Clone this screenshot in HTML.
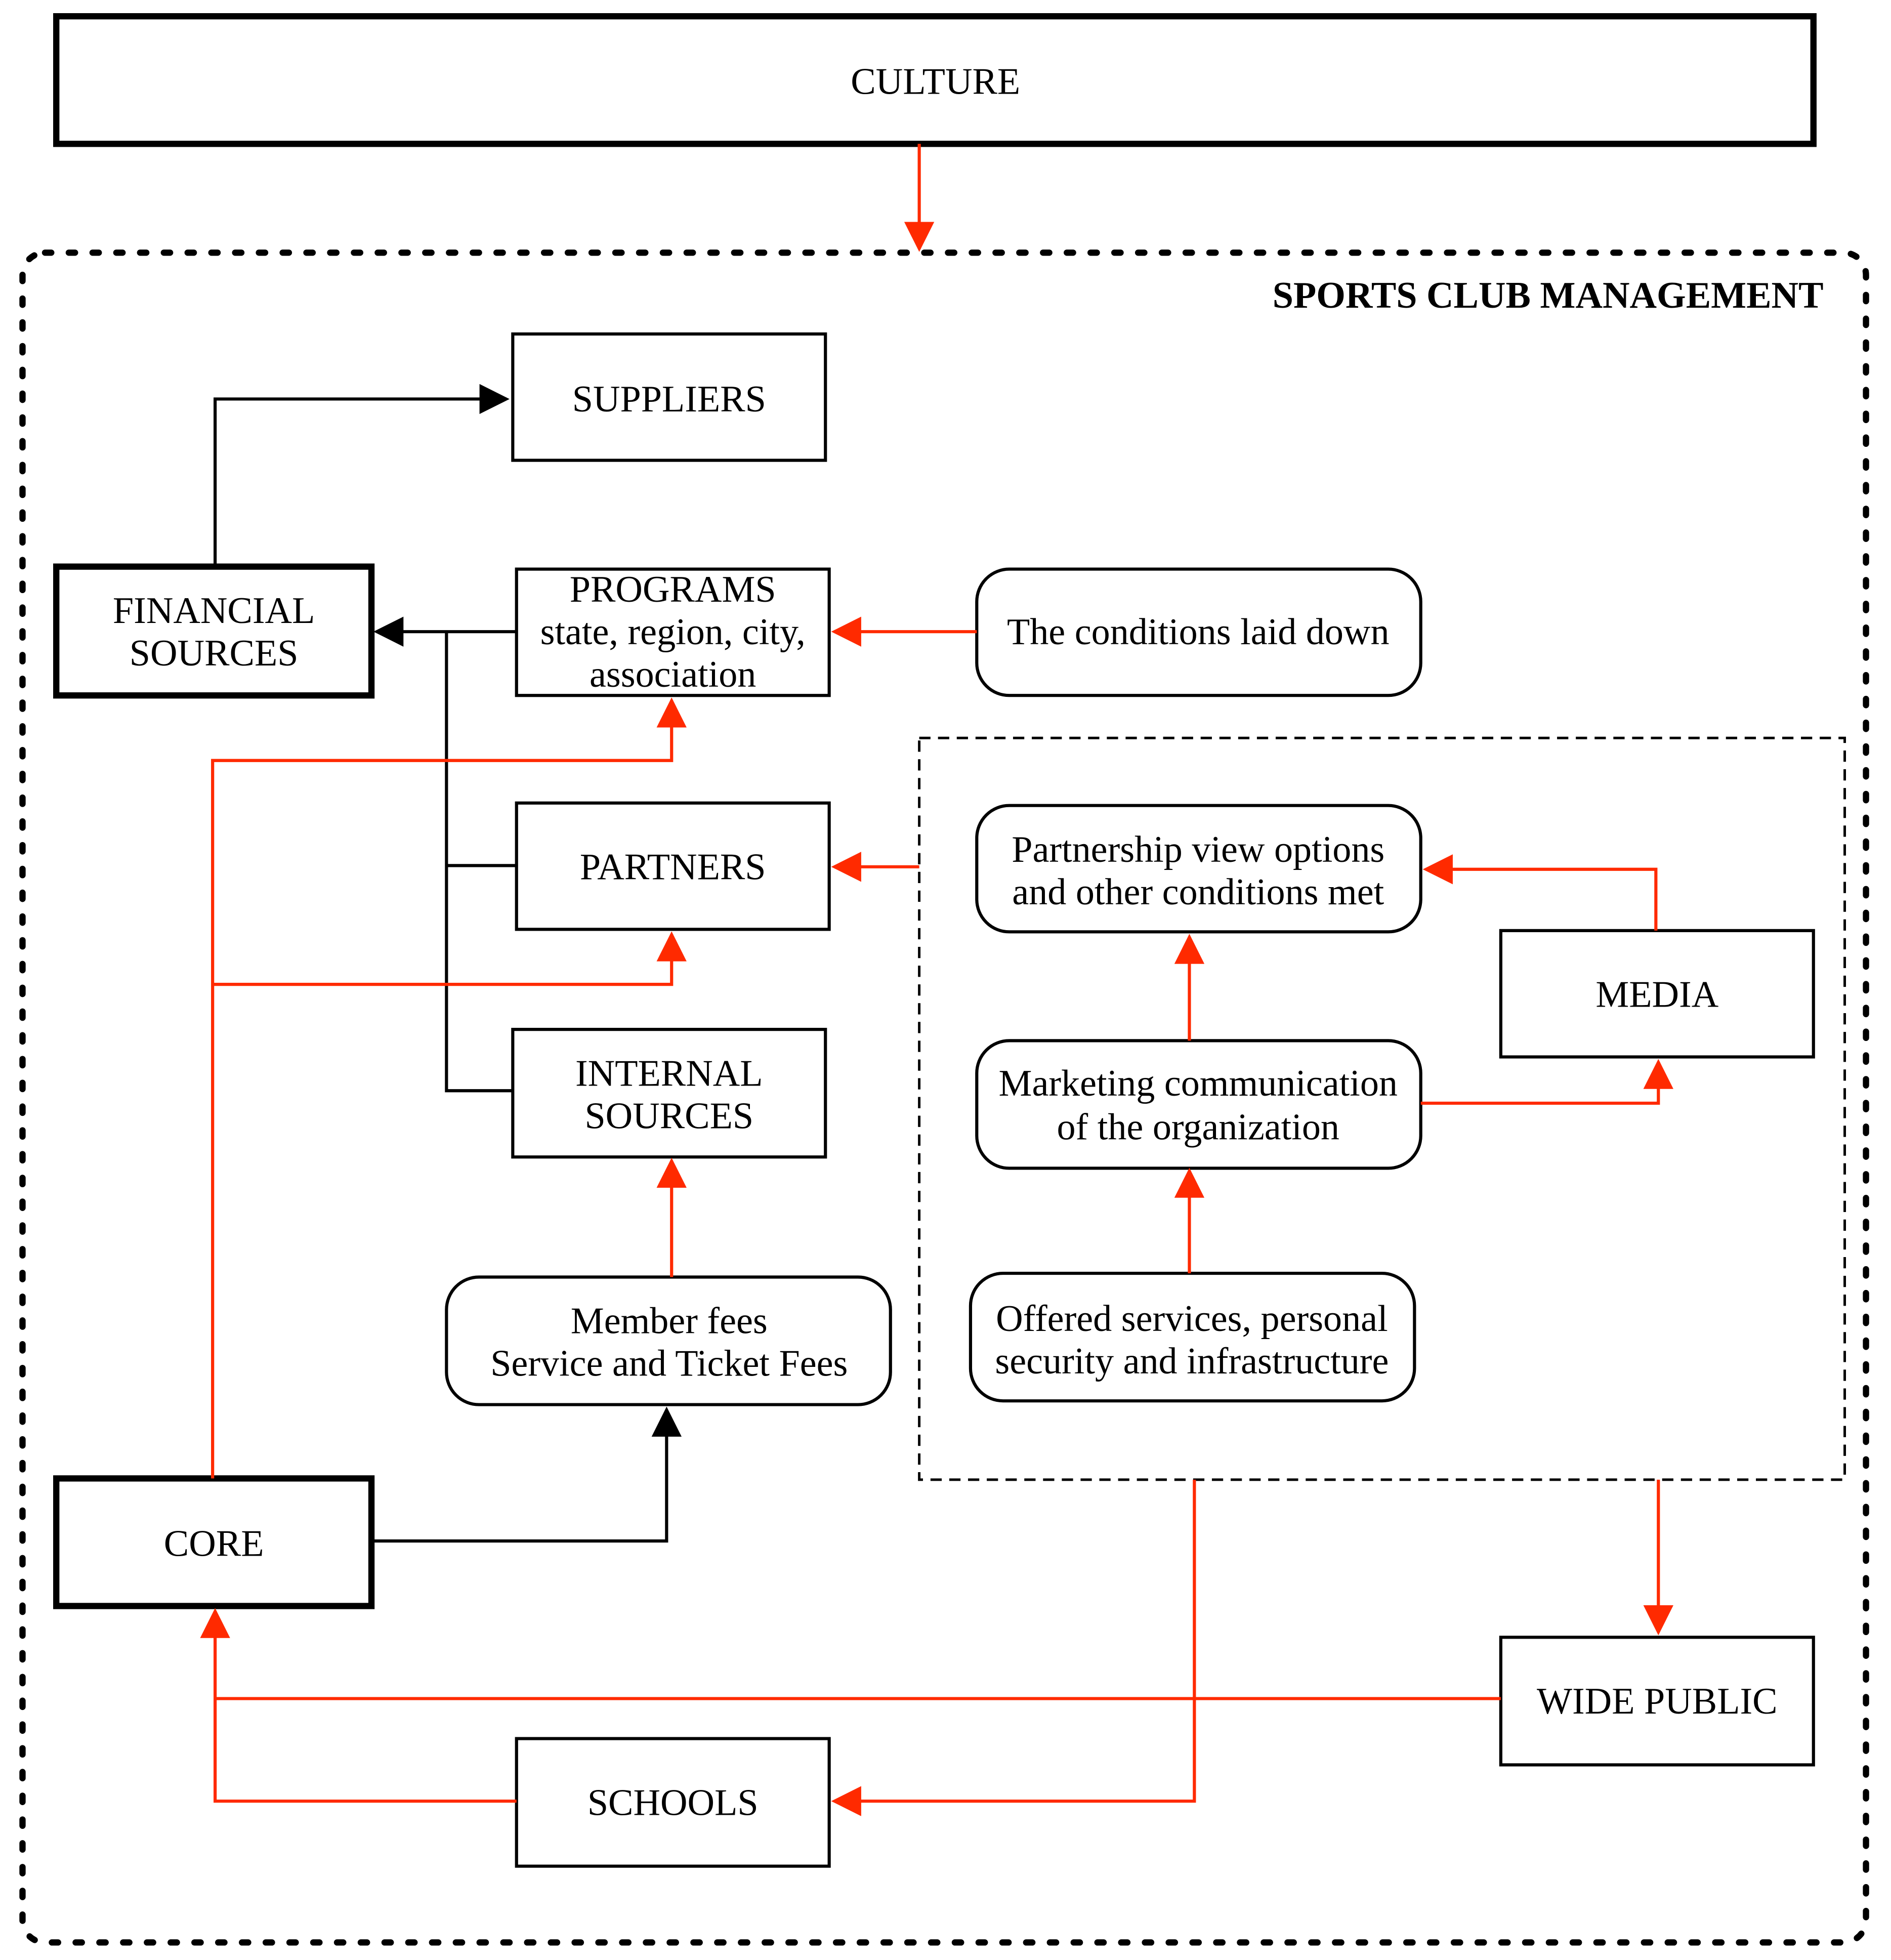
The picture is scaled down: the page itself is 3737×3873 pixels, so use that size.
<!DOCTYPE html>
<html><head><meta charset="utf-8"><style>html,body{margin:0;padding:0;background:#fff}svg{display:block}</style></head>
<body>
<svg width="3737" height="3873" viewBox="0 0 1512 1567" xmlns="http://www.w3.org/2000/svg" font-family="'Liberation Serif', serif" font-size="30">
<defs>
<marker id="abL" viewBox="0 0 10 10" refX="9" refY="5" markerWidth="26" markerHeight="24" markerUnits="userSpaceOnUse" orient="auto"><path d="M0,0 L10,5 L0,10 z" fill="#000"/></marker>
<marker id="arL" viewBox="0 0 10 10" refX="9" refY="5" markerWidth="26" markerHeight="24" markerUnits="userSpaceOnUse" orient="auto"><path d="M0,0 L10,5 L0,10 z" fill="#ff2a00"/></marker>
</defs>
<rect width="1512" height="1567" fill="#fff"/>
<rect x="45" y="13" width="1405" height="102" fill="none" stroke="#000" stroke-width="5"/>
<text x="748" y="75" text-anchor="middle">CULTURE</text>
<rect x="18" y="202" width="1474" height="1351" rx="18" fill="none" stroke="#000" stroke-width="5" stroke-dasharray="5 14" stroke-linecap="round"/>
<text x="1458" y="246" text-anchor="end" font-weight="bold">SPORTS CLUB MANAGEMENT</text>
<rect x="735" y="590" width="740" height="593" fill="none" stroke="#000" stroke-width="2" stroke-dasharray="9 6"/>
<g fill="none" stroke="#000" stroke-width="2.5">
<rect x="410" y="267" width="250" height="101"/>
<rect x="413" y="455" width="250" height="101"/>
<rect x="413" y="642" width="250" height="101"/>
<rect x="410" y="823" width="250" height="102"/>
<rect x="1200" y="744" width="250" height="101"/>
<rect x="1200" y="1309" width="250" height="102"/>
<rect x="413" y="1390" width="250" height="102"/>
<rect x="781" y="455" width="355" height="101" rx="26"/>
<rect x="781" y="644" width="355" height="101" rx="26"/>
<rect x="781" y="832" width="355" height="102" rx="26"/>
<rect x="357" y="1021" width="355" height="102" rx="26"/>
<rect x="776" y="1018" width="355" height="102" rx="26"/>
</g>
<rect x="45" y="453" width="252" height="103" fill="none" stroke="#000" stroke-width="5"/>
<rect x="45" y="1182" width="252" height="102" fill="none" stroke="#000" stroke-width="5"/>
<g text-anchor="middle">
<text x="535" y="329">SUPPLIERS</text>
<text x="171" y="498">FINANCIAL</text><text x="171" y="532">SOURCES</text>
<text x="538" y="481">PROGRAMS</text><text x="538" y="515">state, region, city,</text><text x="538" y="549">association</text>
<text x="958" y="515">The conditions laid down</text>
<text x="538" y="703">PARTNERS</text>
<text x="958" y="689">Partnership view options</text><text x="958" y="723">and other conditions met</text>
<text x="1325" y="805">MEDIA</text>
<text x="958" y="876">Marketing communication</text><text x="958" y="911">of the organization</text>
<text x="535" y="868">INTERNAL</text><text x="535" y="902">SOURCES</text>
<text x="535" y="1066">Member fees</text><text x="535" y="1100">Service and Ticket Fees</text>
<text x="953" y="1064">Offered services, personal</text><text x="953" y="1098">security and infrastructure</text>
<text x="171" y="1244">CORE</text>
<text x="1325" y="1370">WIDE PUBLIC</text>
<text x="538" y="1451">SCHOOLS</text>
</g>
<g fill="none" stroke="#000" stroke-width="2.5">
<path d="M172,453 V319 H405" marker-end="url(#abL)"/>
<path d="M413,505 H301" marker-end="url(#abL)"/>
<path d="M357,505 V872 H410 M357,692 H413"/>
<path d="M297,1232 H533 V1127" marker-end="url(#abL)"/>
</g>
<g fill="none" stroke="#ff2a00" stroke-width="2.5">
<path d="M735,115 V199" marker-end="url(#arL)"/>
<path d="M781,505 H667" marker-end="url(#arL)"/>
<path d="M170,1182 V608 H537 V560" marker-end="url(#arL)"/>
<path d="M170,787 H537 V747" marker-end="url(#arL)"/>
<path d="M735,693 H667" marker-end="url(#arL)"/>
<path d="M1324,744 V695 H1140" marker-end="url(#arL)"/>
<path d="M951,832 V749" marker-end="url(#arL)"/>
<path d="M1136,882 H1326 V849" marker-end="url(#arL)"/>
<path d="M951,1018 V936" marker-end="url(#arL)"/>
<path d="M537,1021 V928" marker-end="url(#arL)"/>
<path d="M1326,1183 V1305" marker-end="url(#arL)"/>
<path d="M1200,1358 H172"/>
<path d="M413,1440 H172 V1288" marker-end="url(#arL)"/>
<path d="M955,1183 V1440 H667" marker-end="url(#arL)"/>
</g>
</svg>
</body></html>
